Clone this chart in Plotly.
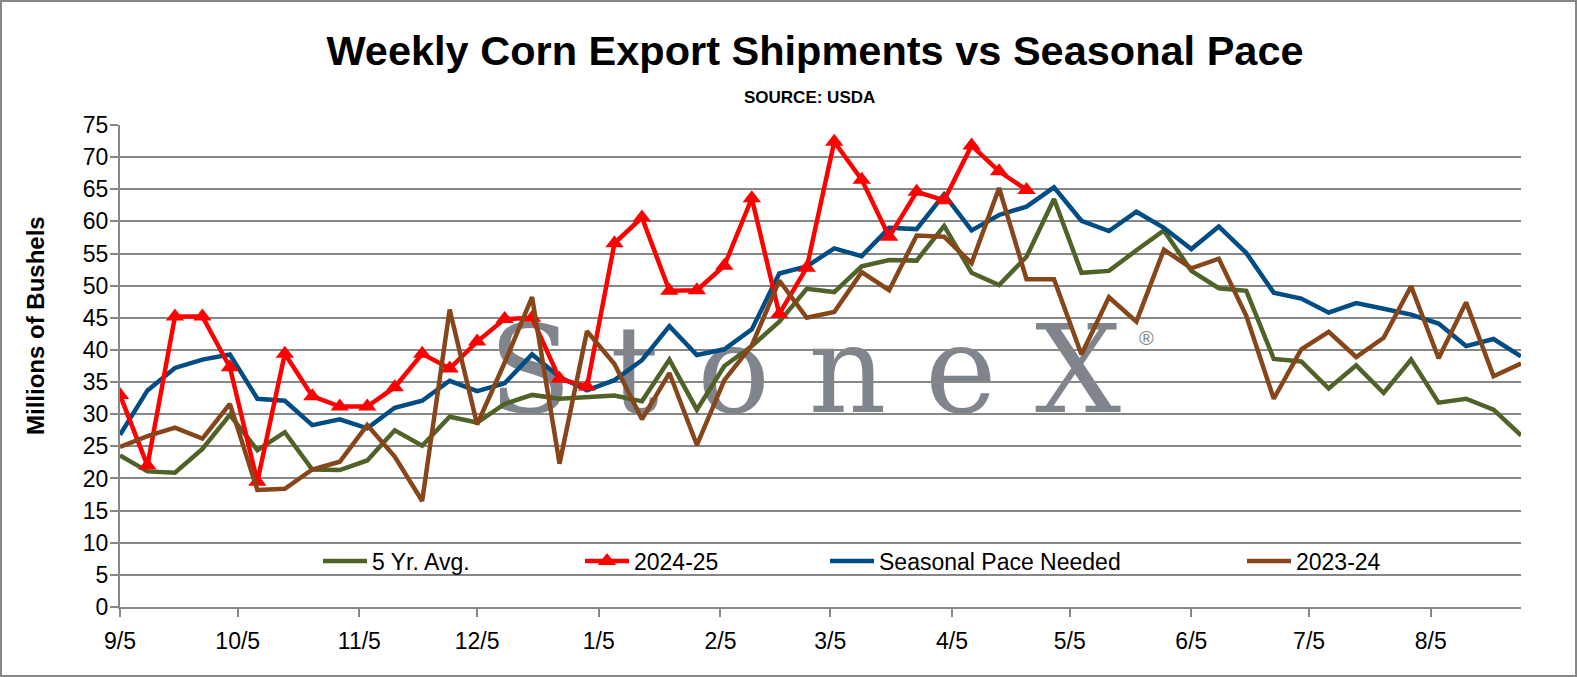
import plotly.graph_objects as go

# Weekly dates (Thursdays) for the marketing year
weeks = [
    "2024-09-05", "2024-09-12", "2024-09-19", "2024-09-26",
    "2024-10-03", "2024-10-10", "2024-10-17", "2024-10-24", "2024-10-31",
    "2024-11-07", "2024-11-14", "2024-11-21", "2024-11-28",
    "2024-12-05", "2024-12-12", "2024-12-19", "2024-12-26",
    "2025-01-02", "2025-01-09", "2025-01-16", "2025-01-23", "2025-01-30",
    "2025-02-06", "2025-02-13", "2025-02-20", "2025-02-27",
    "2025-03-06", "2025-03-13", "2025-03-20", "2025-03-27",
    "2025-04-03", "2025-04-10", "2025-04-17", "2025-04-24",
    "2025-05-01", "2025-05-08", "2025-05-15", "2025-05-22", "2025-05-29",
    "2025-06-05", "2025-06-12", "2025-06-19", "2025-06-26",
    "2025-07-03", "2025-07-10", "2025-07-17", "2025-07-24", "2025-07-31",
    "2025-08-07", "2025-08-14", "2025-08-21", "2025-08-28",
]

# Millions of bushels
avg_5yr = [23.6, 21.1, 20.9, 24.6, 29.9, 24.4, 27.2, 21.4, 21.3, 22.8, 27.5, 25.1, 29.6,
           28.7, 31.6, 33.0, 32.4, 32.7, 32.9, 32.0, 38.5, 30.7, 37.5, 40.6, 44.4, 49.5,
           49.0, 53.0, 54.0, 53.9, 59.3, 52.0, 50.1, 54.5, 63.5, 52.0, 52.3, 55.5, 58.6,
           52.3, 49.6, 49.2, 38.6, 38.2, 34.0, 37.6, 33.3, 38.5, 31.8, 32.4, 30.7, 26.7]

y2024_25 = [33.0, 22.0, 45.2, 45.2, 37.3, 19.5, 39.4, 32.8, 31.2, 31.2, 34.2, 39.4, 37.1,
            41.3, 44.8, 45.0, 35.5, 34.3, 56.6, 60.6, 49.2, 49.3, 53.1, 63.6, 45.6, 52.8,
            72.4, 66.5, 57.6, 64.6, 63.3, 71.8, 67.8, 64.9]

seasonal_pace = [26.8, 33.7, 37.2, 38.5, 39.3, 32.4, 32.1, 28.3, 29.2, 27.8, 31.0, 32.1, 35.2,
                 33.6, 34.8, 39.3, 35.8, 33.7, 35.3, 38.4, 43.7, 39.2, 40.1, 43.2, 51.9, 53.0,
                 55.8, 54.6, 59.0, 58.8, 64.2, 58.6, 61.0, 62.3, 65.3, 60.1, 58.5, 61.5, 59.0,
                 55.7, 59.2, 55.1, 48.9, 48.0, 45.8, 47.3, 46.4, 45.5, 44.1, 40.6, 41.7, 39.0]

y2023_24 = [24.9, 26.6, 27.9, 26.2, 31.6, 18.2, 18.4, 21.4, 22.6, 28.3, 23.4, 16.5, 46.3,
            28.4, 38.0, 48.2, 22.3, 42.9, 37.8, 29.2, 36.4, 25.2, 35.3, 40.7, 50.8, 45.0,
            45.9, 52.1, 49.3, 57.8, 57.6, 53.5, 65.2, 51.0, 51.0, 39.3, 48.2, 44.4, 55.6,
            52.7, 54.2, 45.3, 32.4, 40.1, 42.8, 38.9, 41.9, 49.9, 38.7, 47.4, 35.9, 37.9]

tick_dates = ["2024-09-05", "2024-10-05", "2024-11-05", "2024-12-05", "2025-01-05",
              "2025-02-05", "2025-03-05", "2025-04-05", "2025-05-05", "2025-06-05",
              "2025-07-05", "2025-08-05"]
tick_labels = ["9/5", "10/5", "11/5", "12/5", "1/5", "2/5", "3/5", "4/5", "5/5",
               "6/5", "7/5", "8/5"]

GREEN = "#4F6228"
RED = "#FF0000"
BLUE = "#004C85"
BROWN = "#87461A"
GRAY = "#878787"
FONT = "Liberation Sans"
LW = 4.5

W, H = 1577, 677
ML, MR, MT, MB = 120, 56, 125, 70
PW, PH = W - ML - MR, H - MT - MB

fig = go.Figure()

fig.add_trace(go.Scatter(x=weeks, y=avg_5yr, name="5 Yr. Avg.", mode="lines",
                         line=dict(color=GREEN, width=LW), legend="legend"))
fig.add_trace(go.Scatter(x=weeks, y=seasonal_pace, name="Seasonal Pace Needed", mode="lines",
                         line=dict(color=BLUE, width=LW), legend="legend3"))
fig.add_trace(go.Scatter(x=weeks[:len(y2024_25)], y=y2024_25, name="2024-25",
                         mode="lines+markers", line=dict(color=RED, width=LW),
                         marker=dict(symbol="triangle-up", size=16, color=RED),
                         legend="legend2"))
fig.add_trace(go.Scatter(x=weeks, y=y2023_24, name="2023-24", mode="lines",
                         line=dict(color=BROWN, width=LW), legend="legend4"))


def px_x(p):
    return (p - ML) / PW


def px_y(p):
    return (H - MB - p) / PH


def leg(xpix):
    return dict(x=px_x(xpix), xanchor="left", y=px_y(561), yanchor="middle",
                orientation="h", bgcolor="rgba(0,0,0,0)", itemwidth=44,
                font=dict(family=FONT, size=23, color="black"))


fig.update_layout(
    width=W, height=H,
    margin=dict(l=ML, r=MR, t=MT, b=MB),
    paper_bgcolor="white", plot_bgcolor="white",
    showlegend=True,
    legend=leg(318), legend2=leg(580), legend3=leg(825), legend4=leg(1242),
    title=dict(text="<b>Weekly Corn Export Shipments vs Seasonal Pace</b>",
               x=815 / W, xanchor="center", y=1 - 50 / H, yanchor="middle",
               font=dict(family=FONT, size=41.5, color="black")),
    xaxis=dict(type="date", range=[weeks[0], weeks[-1]], tickvals=tick_dates,
               ticktext=tick_labels, showgrid=False, showline=True, linecolor=GRAY,
               linewidth=2, ticks="outside", ticklen=8, tickwidth=2, tickcolor=GRAY,
               ticklabelstandoff=4,
               tickfont=dict(family=FONT, size=23, color="black")),
    yaxis=dict(range=[0, 75], dtick=5, showgrid=True, gridcolor=GRAY, gridwidth=2,
               showline=True, linecolor=GRAY, linewidth=2, ticks="outside", ticklen=8,
               tickwidth=2, tickcolor=GRAY, zeroline=False, ticklabelstandoff=-3,
               tickfont=dict(family=FONT, size=23, color="black")),
    annotations=[
        dict(text="<b>SOURCE: USDA</b>", xref="paper", yref="paper", x=px_x(809),
             y=px_y(98), xanchor="center", yanchor="middle", showarrow=False,
             font=dict(family=FONT, size=17, color="black")),
        dict(text="<b>Millions of Bushels</b>", xref="paper", yref="paper", x=px_x(35),
             y=px_y(326), xanchor="center", yanchor="middle", textangle=-90,
             showarrow=False, font=dict(family=FONT, size=24, color="black")),
        dict(text="®", xref="paper", yref="paper", x=px_x(1146), y=px_y(338),
             xanchor="center", yanchor="middle", showarrow=False,
             font=dict(family=FONT, size=20, color="#80848C")),
    ],
    shapes=[
        # StoneX watermark behind the grid
        dict(type="rect", xref="paper", yref="paper", x0=px_x(470), x1=px_x(1140),
             y0=px_y(421), y1=px_y(301), layer="below",
             line=dict(width=0), fillcolor="rgba(0,0,0,0)",
             label=dict(text="S\u00a0t\u00a0o\u00a0n\u00a0e\u00a0X", textposition="middle center",
                        font=dict(family="DejaVu Serif", size=121, color="#80848C"))),
        # outer chart border
        dict(type="rect", xref="paper", yref="paper", x0=px_x(1), x1=px_x(W - 1),
             y0=px_y(H - 1), y1=px_y(1), line=dict(color=GRAY, width=2),
             fillcolor="rgba(0,0,0,0)", layer="above"),
    ],
)

fig.write_html("out.html", config={"displayModeBar": False},
               post_script="document.body.style.margin='0';")
